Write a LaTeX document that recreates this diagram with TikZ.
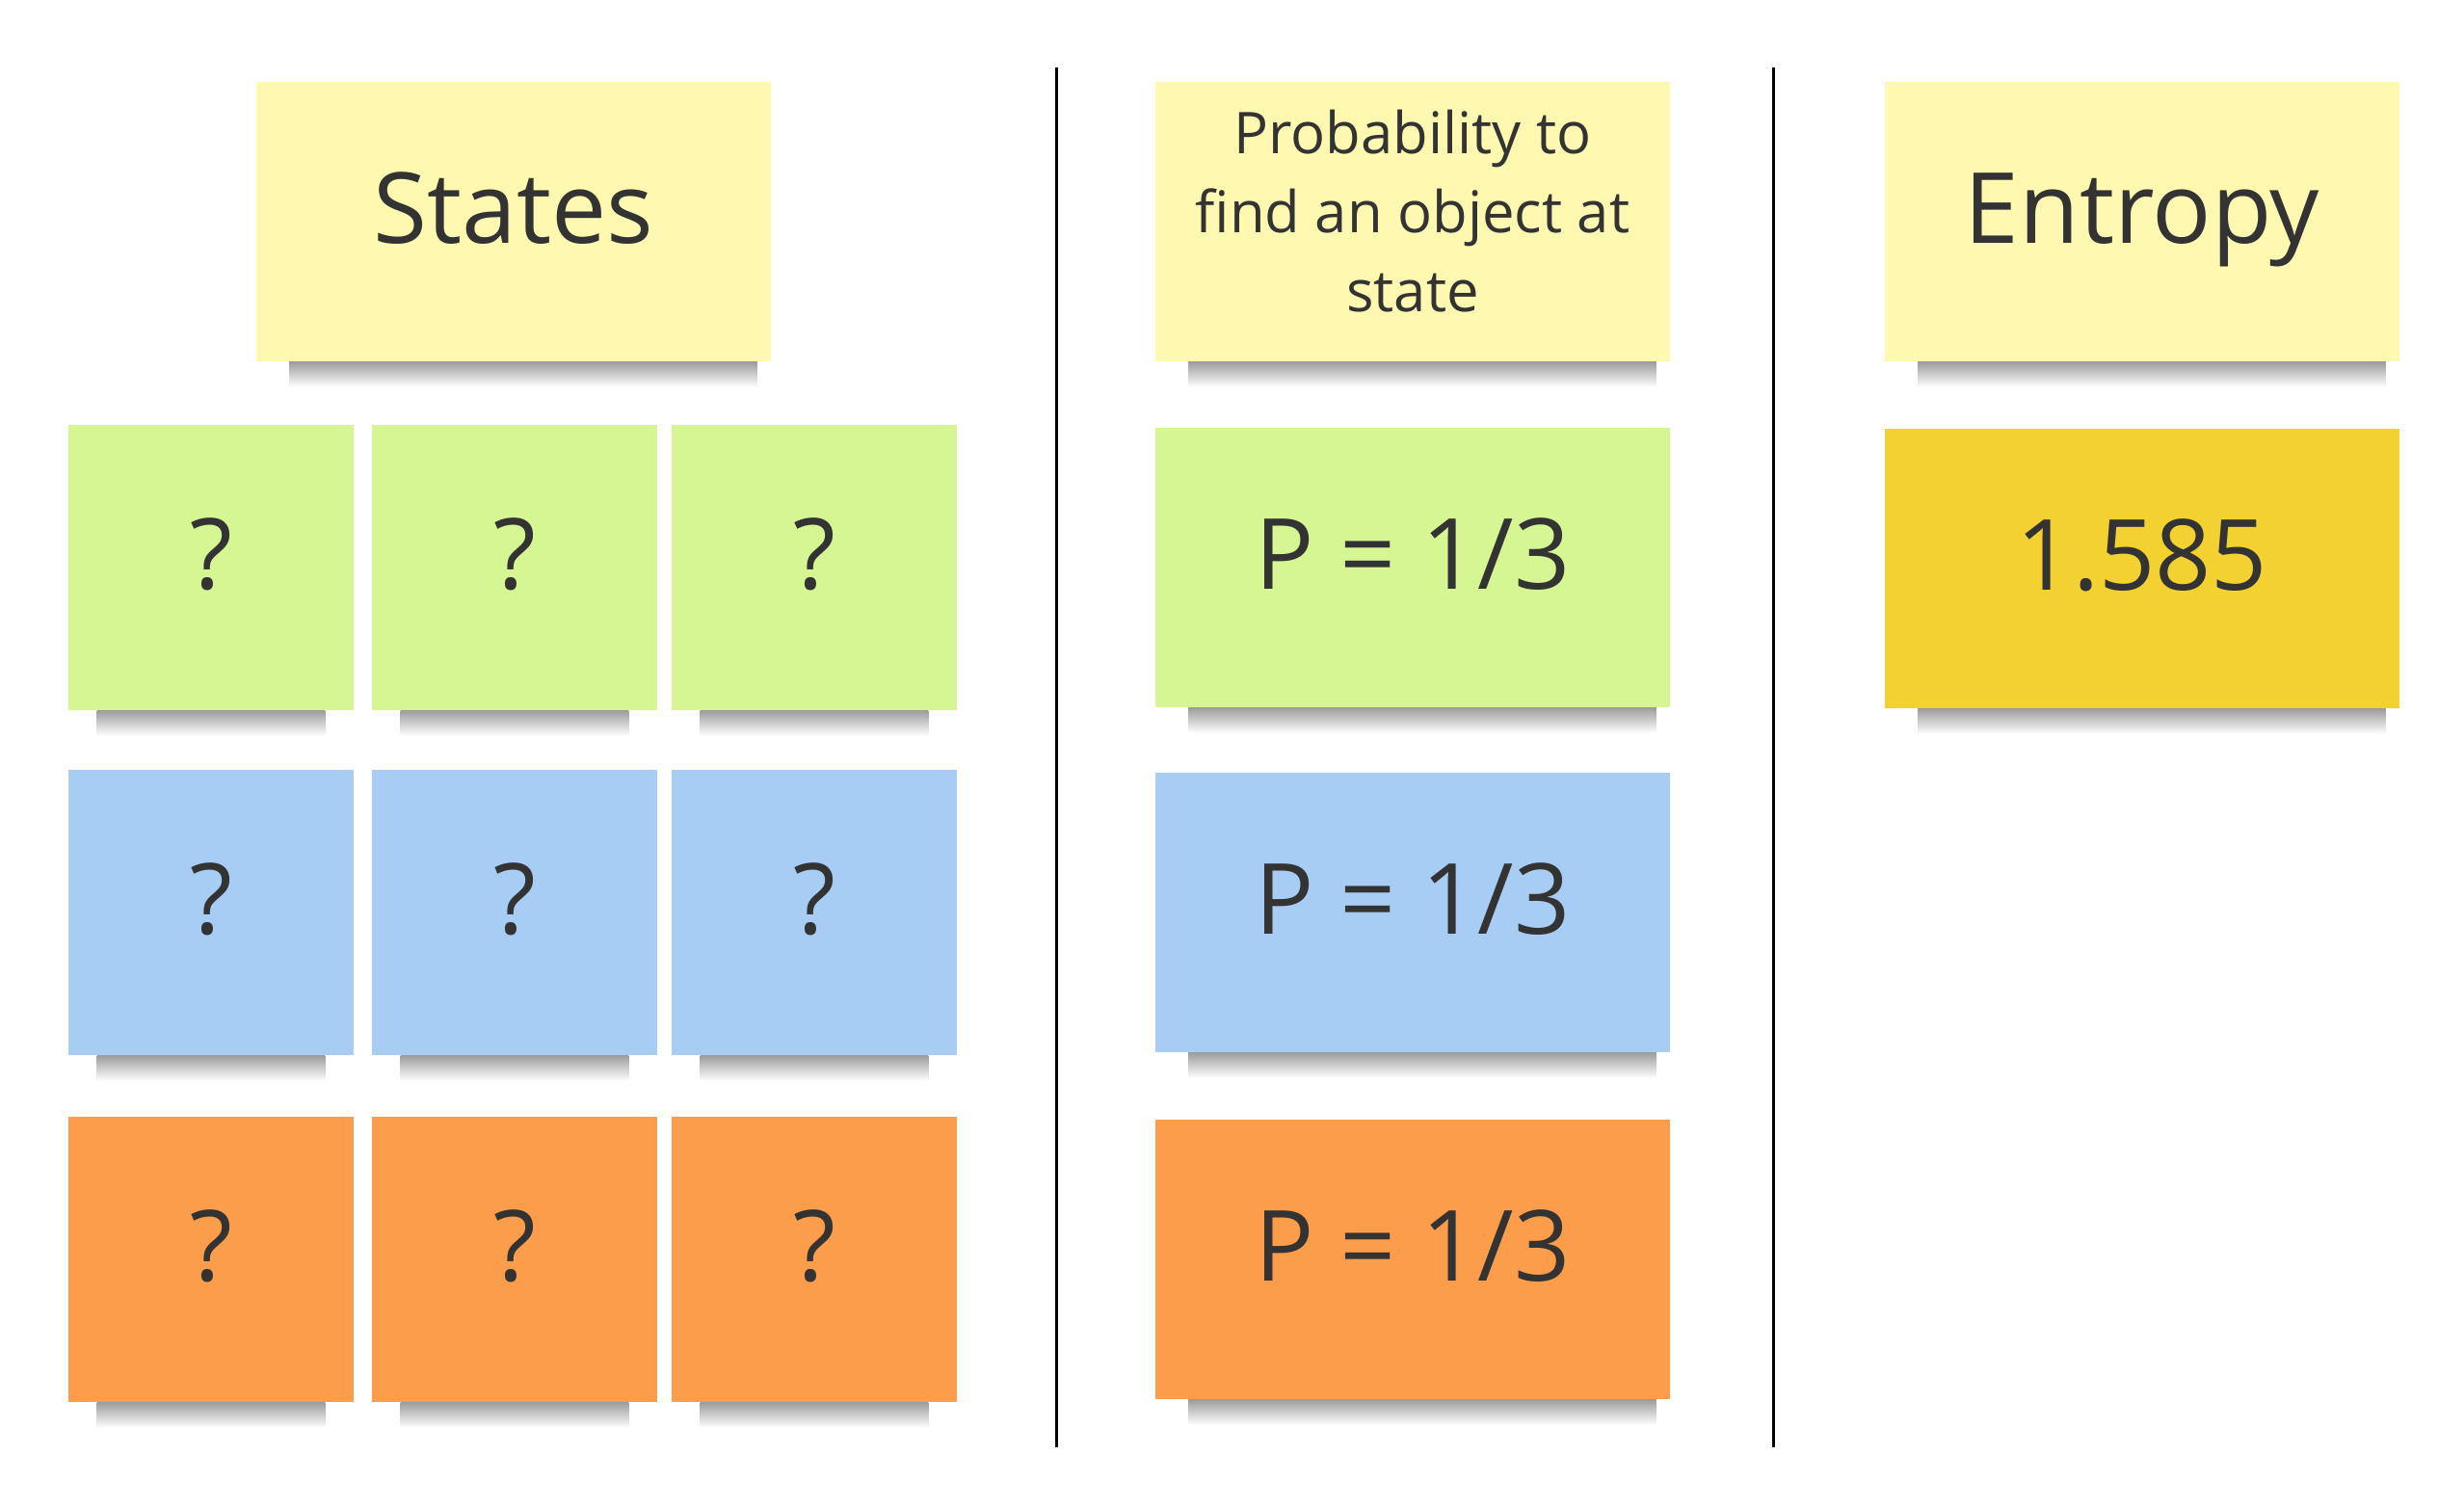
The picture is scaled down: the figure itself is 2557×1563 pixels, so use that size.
\documentclass[tikz,border=0pt]{standalone}
\usepackage{fontspec}
\setmainfont{Open Sans}
\usetikzlibrary{backgrounds}
\definecolor{notey}{HTML}{FEF8B1}
\definecolor{noteg}{HTML}{D5F692}
\definecolor{noteb}{HTML}{A8CDF4}
\definecolor{noteo}{HTML}{FC9D4B}
\definecolor{notedy}{HTML}{F2D130}
\definecolor{ink}{HTML}{333333}
\begin{document}
\begin{tikzpicture}[x=0.01cm,y=-0.01cm,
  note/.style={inner sep=0pt,text=ink,font=\fontsize{29}{35}\selectfont,text height=0.74cm,text depth=0.3cm},
  sq/.style={note,minimum width=2.95cm,minimum height=2.96cm},
  wide/.style={note,minimum width=5.34cm,minimum height=2.90cm},
  shadow/.style={top color=black!38,bottom color=white,draw=none}]
\useasboundingbox (0,0) rectangle (2557,1563);
\path
(533,230)  node[wide,fill=notey] (st) {States}
(219,589)  node[sq,fill=noteg] (q11) {?}
(534,589)  node[sq,fill=noteg] (q12) {?}
(845,589)  node[sq,fill=noteg] (q13) {?}
(219,947)  node[sq,fill=noteb] (q21) {?}
(534,947)  node[sq,fill=noteb] (q22) {?}
(845,947)  node[sq,fill=noteb] (q23) {?}
(219,1307) node[sq,fill=noteo] (q31) {?}
(534,1307) node[sq,fill=noteo] (q32) {?}
(845,1307) node[sq,fill=noteo] (q33) {?}
(1466,230)  node[wide,fill=notey,align=center,font=\fontsize{17}{23.3}\selectfont,text height=,text depth=0.22cm] (pr) {Probability to\\find an object at\\state}
(1466,589)  node[wide,fill=noteg] (p1) {P = 1/3}
(1466,947)  node[wide,fill=noteb] (p2) {P = 1/3}
(1466,1307) node[wide,fill=noteo] (p3) {P = 1/3}
(2223,230) node[wide,fill=notey] (en) {Entropy}
(2223,590) node[wide,fill=notedy] (h) {1.585};
\coordinate (l1a) at (1096,70);
\coordinate (l1b) at (1096,1502);
\coordinate (l2a) at (1840,70);
\coordinate (l2b) at (1840,1502);
\draw[line width=0.85pt] (l1a)--(l1b);
\draw[line width=0.85pt] (l2a)--(l2b);
\begin{scope}[on background layer]
\shade[shadow] ([xshift=0.35cm]st.south west) rectangle ([xshift=-0.15cm,yshift=-0.26cm]st.south east);
\shade[shadow] ([xshift=0.35cm]pr.south west) rectangle ([xshift=-0.15cm,yshift=-0.26cm]pr.south east);
\shade[shadow] ([xshift=0.35cm]en.south west) rectangle ([xshift=-0.15cm,yshift=-0.26cm]en.south east);
\shade[shadow] ([xshift=0.35cm]p1.south west) rectangle ([xshift=-0.15cm,yshift=-0.26cm]p1.south east);
\shade[shadow] ([xshift=0.35cm]p2.south west) rectangle ([xshift=-0.15cm,yshift=-0.26cm]p2.south east);
\shade[shadow] ([xshift=0.35cm]p3.south west) rectangle ([xshift=-0.15cm,yshift=-0.26cm]p3.south east);
\shade[shadow] ([xshift=0.35cm]h.south west) rectangle ([xshift=-0.15cm,yshift=-0.26cm]h.south east);
\shade[shadow] ([xshift=0.3cm]q11.south west) rectangle ([xshift=-0.3cm,yshift=-0.26cm]q11.south east);
\shade[shadow] ([xshift=0.3cm]q12.south west) rectangle ([xshift=-0.3cm,yshift=-0.26cm]q12.south east);
\shade[shadow] ([xshift=0.3cm]q13.south west) rectangle ([xshift=-0.3cm,yshift=-0.26cm]q13.south east);
\shade[shadow] ([xshift=0.3cm]q21.south west) rectangle ([xshift=-0.3cm,yshift=-0.26cm]q21.south east);
\shade[shadow] ([xshift=0.3cm]q22.south west) rectangle ([xshift=-0.3cm,yshift=-0.26cm]q22.south east);
\shade[shadow] ([xshift=0.3cm]q23.south west) rectangle ([xshift=-0.3cm,yshift=-0.26cm]q23.south east);
\shade[shadow] ([xshift=0.3cm]q31.south west) rectangle ([xshift=-0.3cm,yshift=-0.26cm]q31.south east);
\shade[shadow] ([xshift=0.3cm]q32.south west) rectangle ([xshift=-0.3cm,yshift=-0.26cm]q32.south east);
\shade[shadow] ([xshift=0.3cm]q33.south west) rectangle ([xshift=-0.3cm,yshift=-0.26cm]q33.south east);
\end{scope}
\end{tikzpicture}
\end{document}
